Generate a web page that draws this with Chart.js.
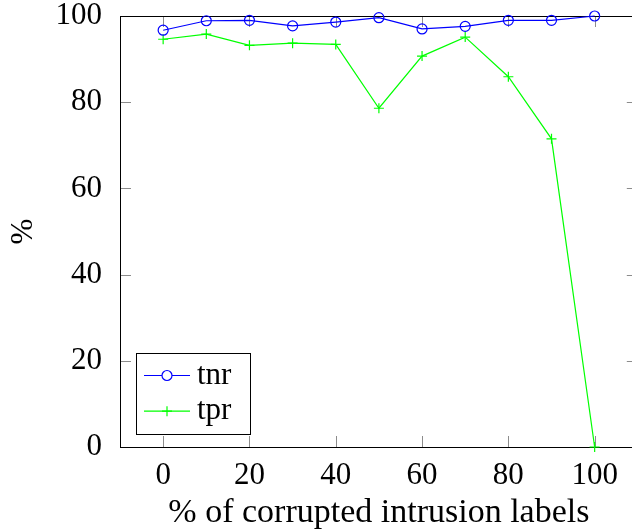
<!DOCTYPE html>
<html>
<head>
<meta charset="utf-8">
<script src="https://cdn.jsdelivr.net/npm/chart.js@4.4.0/dist/chart.umd.min.js"></script>
<style>
  html, body { margin: 0; padding: 0; overflow: hidden; background: #fff; }
  canvas { display: block; }
</style>
</head>
<body>
<canvas id="c" width="644" height="530"></canvas>
<script>
// % of corrupted intrusion labels
const corruption = [0, 10, 20, 30, 40, 50, 60, 70, 80, 90, 100];
const tnr = [96.7, 98.9, 99.0, 97.7, 98.6, 99.6, 97.0, 97.6, 99.0, 99.0, 100];
const tpr = [94.6, 95.8, 93.2, 93.7, 93.4, 78.6, 90.7, 95.1, 85.9, 71.5, 0];
const xTicks = [0, 20, 40, 60, 80, 100];
const yTicks = [0, 20, 40, 60, 80, 100];

const FONT = 'Liberation Serif';

function points(ys) {
    return corruption.map((x, i) => ({x: x, y: ys[i]}));
}

// ticks inward on all four sides + box around the plot
const frame = {
    id: 'frame',
    beforeDatasetsDraw(chart) {
        const {ctx, chartArea: a, scales} = chart;
        const L = 11;
        ctx.save();
        ctx.lineWidth = 1;
        ctx.strokeStyle = '#8c8c8c';
        ctx.beginPath();
        xTicks.forEach(v => {
            const p = Math.round(scales.x.getPixelForValue(v)) + 0.5;
            ctx.moveTo(p, a.bottom); ctx.lineTo(p, a.bottom - L);
            ctx.moveTo(p, a.top); ctx.lineTo(p, a.top + L);
        });
        yTicks.forEach(v => {
            const p = Math.round(scales.y.getPixelForValue(v)) + 0.5;
            ctx.moveTo(a.left, p); ctx.lineTo(a.left + L, p);
            ctx.moveTo(a.right, p); ctx.lineTo(a.right - L, p);
        });
        ctx.stroke();
        ctx.strokeStyle = '#000';
        ctx.strokeRect(Math.round(a.left) + 0.5, Math.round(a.top) + 0.5,
            Math.round(a.right - a.left), Math.round(a.bottom - a.top));
        ctx.restore();
    }
};

// legend box in the lower left corner of the plot
const boxLegend = {
    id: 'boxLegend',
    afterDraw(chart) {
        const ctx = chart.ctx;
        const a = chart.chartArea;
        const bx = a.left + 16, by = a.bottom - 94, bw = 114, bh = 81;
        ctx.save();
        ctx.fillStyle = '#fff';
        ctx.fillRect(bx, by, bw, bh);
        ctx.strokeStyle = '#000';
        ctx.lineWidth = 1;
        ctx.strokeRect(bx + 0.5, by + 0.5, bw, bh);
        chart.data.datasets.forEach((ds, i) => {
            const yy = by + 22.5 + i * 35.7;
            const x0 = bx + 8, x1 = bx + 54, xm = (x0 + x1) / 2;
            ctx.strokeStyle = ds.borderColor;
            ctx.lineWidth = ds.borderWidth;
            ctx.beginPath(); ctx.moveTo(x0, yy); ctx.lineTo(x1, yy); ctx.stroke();
            Chart.helpers.drawPoint(ctx, {
                pointStyle: ds.pointStyle, radius: ds.pointRadius,
                borderWidth: ds.borderWidth, rotation: 0
            }, xm, yy);
            ctx.fillStyle = '#000';
            ctx.font = '31px "' + FONT + '"';
            ctx.textAlign = 'left';
            ctx.textBaseline = 'middle';
            ctx.fillText(ds.label, x1 + 7, yy);
        });
        ctx.restore();
    }
};

new Chart(document.getElementById('c'), {
    type: 'line',
    data: {
        datasets: [{
            label: 'tnr',
            data: points(tnr),
            borderColor: '#0000ff',
            backgroundColor: 'rgba(0,0,0,0)',
            pointBorderColor: '#0000ff',
            pointBackgroundColor: 'rgba(0,0,0,0)',
            borderWidth: 1.2,
            pointBorderWidth: 1.2,
            pointStyle: 'circle',
            pointRadius: 5,
            tension: 0
        }, {
            label: 'tpr',
            data: points(tpr),
            borderColor: '#00ff00',
            backgroundColor: 'rgba(0,0,0,0)',
            pointBorderColor: '#00ff00',
            borderWidth: 1.2,
            pointBorderWidth: 1.2,
            pointStyle: 'cross',
            pointRadius: 5,
            tension: 0
        }]
    },
    options: {
        responsive: false,
        animation: false,
        devicePixelRatio: 1,
        clip: false,
        layout: {padding: {top: 16, right: 0, left: 0, bottom: 0}},
        plugins: {legend: {display: false}, tooltip: {enabled: false}},
        scales: {
            x: {
                type: 'linear',
                min: -10,
                max: 110,
                grid: {display: false},
                border: {display: false},
                afterBuildTicks: s => { s.ticks = xTicks.map(v => ({value: v})); },
                afterFit: s => { s.height = 83; s.paddingLeft = 0; s.paddingRight = 0; },
                ticks: {
                    color: '#000',
                    padding: 5,
                    maxRotation: 0,
                    font: {family: FONT, size: 31, lineHeight: 1}
                },
                title: {
                    display: true,
                    text: '% of corrupted intrusion labels',
                    color: '#000',
                    padding: {top: 0, bottom: 0},
                    font: {family: FONT, size: 34, lineHeight: 1}
                }
            },
            y: {
                min: 0,
                max: 100,
                grid: {display: false},
                border: {display: false},
                afterBuildTicks: s => { s.ticks = yTicks.map(v => ({value: v})); },
                afterFit: s => { s.width = 120; s.paddingTop = 0; s.paddingBottom = 0; },
                ticks: {
                    color: '#000',
                    padding: 10,
                    font: {family: FONT, size: 31, lineHeight: 1}
                },
                title: {
                    display: true,
                    text: '%',
                    color: '#000',
                    padding: {top: 8, bottom: 0},
                    font: {family: FONT, size: 31, lineHeight: 1}
                }
            }
        }
    },
    plugins: [frame, boxLegend]
});
</script>
</body>
</html>
